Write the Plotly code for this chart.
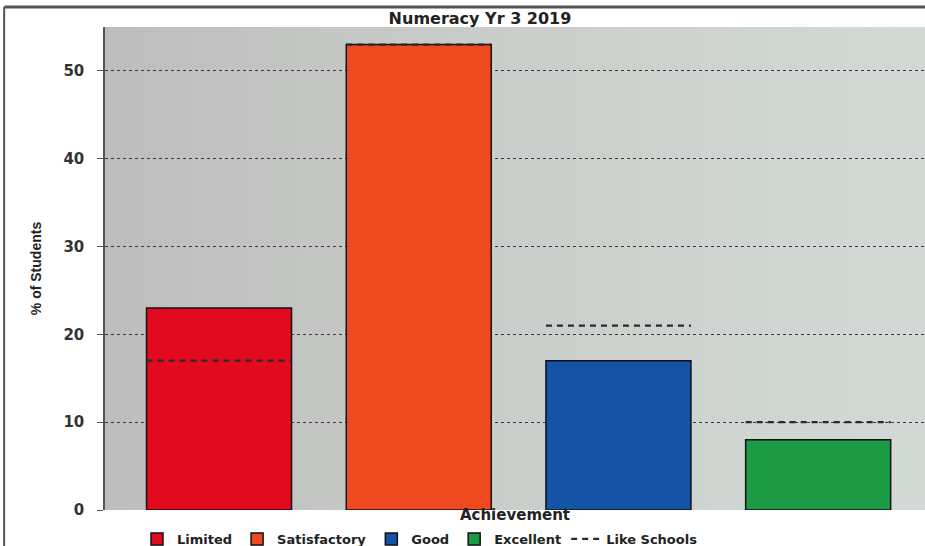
import base64
import plotly.graph_objects as go

# Achievement bands and the school's results (% of students)
categories = ["Limited", "Satisfactory", "Good", "Excellent"]
school_pct = [23, 53, 17, 8]
like_schools_pct = [17, 53, 21, 10]
bar_colors = ["#e20a1f", "#ef4a1f", "#1553a6", "#1d9a46"]
y_ticks = [0, 10, 20, 30, 40, 50]

BAR_W = 0.726
TEXT_FONT = "DejaVu Sans, Verdana, sans-serif"

fig = go.Figure()

for i, (cat, val, col) in enumerate(zip(categories, school_pct, bar_colors)):
    fig.add_trace(go.Bar(
        x=[i], y=[val], name=f"<b>{cat}</b>", width=BAR_W,
        marker=dict(color=col, line=dict(color="#111111", width=1.5)),
        showlegend=True,
    ))

# Like-schools benchmark: a dashed segment across each bar
lx, ly = [], []
for i, v in enumerate(like_schools_pct):
    lx += [i - BAR_W / 2, i + BAR_W / 2, None]
    ly += [v, v, None]
fig.add_trace(go.Scatter(
    x=lx, y=ly, mode="lines", name="<b>Like Schools</b>",
    line=dict(color="#2a2a2a", width=2.2, dash="6px,5px"),
    connectgaps=False,
))

# Soft grey-to-sage gradient behind the plot area
svg = (
    '<svg xmlns="http://www.w3.org/2000/svg" width="100" height="100" preserveAspectRatio="none">'
    '<defs><linearGradient id="g" x1="0" y1="0" x2="1" y2="0">'
    '<stop offset="0" stop-color="#bdbdbd"/>'
    '<stop offset="0.45" stop-color="#c9cdc9"/>'
    '<stop offset="1" stop-color="#d3dad5"/>'
    '</linearGradient></defs>'
    '<rect width="100" height="100" fill="url(#g)"/></svg>'
)
svg_uri = "data:image/svg+xml;base64," + base64.b64encode(svg.encode()).decode()

fig.update_layout(
    width=925, height=546,
    margin=dict(l=105, r=0, t=27, b=36, autoexpand=False),
    paper_bgcolor="white",
    plot_bgcolor="rgba(0,0,0,0)",
    barmode="overlay",
    font=dict(family=TEXT_FONT, color="#222222"),
    images=[dict(
        source=svg_uri, xref="paper", yref="paper", x=0, y=1,
        sizex=1, sizey=1, sizing="stretch", layer="below",
        xanchor="left", yanchor="top",
    )],
    title=dict(
        text="<b>Numeracy Yr 3 2019</b>", x=(480 - 105) / 820, xref="paper",
        xanchor="center", y=1 - 18 / 546, yanchor="middle",
        font=dict(size=16, color="#222222"),
    ),
    xaxis=dict(
        range=[-0.571, 3.535], showgrid=False, zeroline=False,
        showticklabels=False, ticks="", automargin=False,
        title=dict(text="<b>Achievement</b>", standoff=2,
                   font=dict(size=15, color="#222222")),
    ),
    yaxis=dict(
        range=[0, 55], tickvals=y_ticks, ticktext=[f"<b>{t}</b>" for t in y_ticks],
        showgrid=True, gridcolor="#3a3a3a", griddash="dot", gridwidth=1.4,
        zeroline=False, showline=True, linecolor="#555555", linewidth=1.5,
        ticks="outside", ticklen=6, tickcolor="#555555",
        ticklabelstandoff=10, automargin=False,
        tickfont=dict(family=TEXT_FONT, size=15, color="#333333"),
        title=dict(text="<b>% of Students</b>", standoff=18,
                   font=dict(family="Liberation Sans Narrow, Arial Narrow, sans-serif",
                             size=14, color="#222222")),
    ),
    legend=dict(
        orientation="h", x=(137 - 105) / 820, xanchor="left",
        yref="container", y=7 / 546, yanchor="middle",
        font=dict(size=13, color="#222222"),
        itemwidth=30, tracegroupgap=0, bgcolor="rgba(0,0,0,0)",
    ),
    shapes=[
        # outer frame: top rule and left rule
        dict(type="line", xref="paper", yref="paper",
             x0=-0.123, x1=1.0, y0=1 + 20 / 483, y1=1 + 20 / 483,
             line=dict(color="#555555", width=3)),
        dict(type="line", xref="paper", yref="paper",
             x0=-0.123, x1=-0.123, y0=1 + 20 / 483, y1=-0.08,
             line=dict(color="#555555", width=2)),
    ],
)

fig.write_html("out.html")
